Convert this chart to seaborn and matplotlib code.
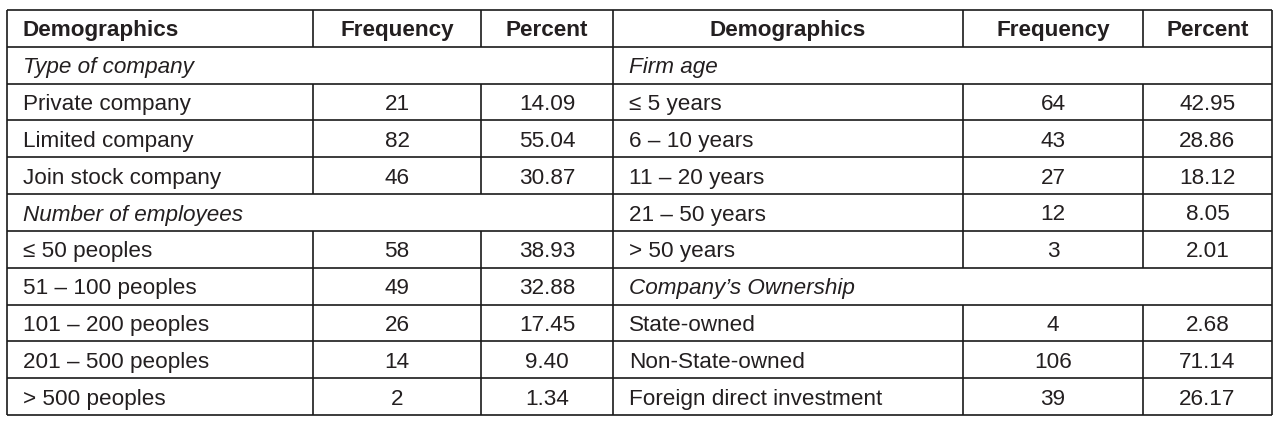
import matplotlib
matplotlib.use("Agg")
import matplotlib.pyplot as plt
import seaborn as sns
import pandas as pd

# ---- data ----
left_labels = ["Type of company", "Private company", "Limited company", "Join stock company",
               "Number of employees", "\u2264 50 peoples", "51 \u2013 100 peoples",
               "101 \u2013 200 peoples", "201 \u2013 500 peoples", "> 500 peoples"]
left_freq = [None, 21, 82, 46, None, 58, 49, 26, 14, 2]
left_pct = [None, "14.09", "55.04", "30.87", None, "38.93", "32.88", "17.45", "9.40", "1.34"]

right_labels = ["Firm age", "\u2264 5 years", "6 \u2013 10 years", "11 \u2013 20 years",
                "21 \u2013 50 years", "> 50 years", "Company\u2019s Ownership", "State-owned",
                "Non-State-owned", "Foreign direct investment"]
right_freq = [None, 64, 43, 27, 12, 3, None, 4, 106, 39]
right_pct = [None, "42.95", "28.86", "18.12", "8.05", "2.01", None, "2.68", "71.14", "26.17"]

headers = ["Demographics", "Frequency", "Percent"]

left_df = pd.DataFrame({"label": left_labels, "freq": left_freq, "pct": left_pct})
right_df = pd.DataFrame({"label": right_labels, "freq": right_freq, "pct": right_pct})

# ---- style ----
sns.set_theme(style="white")
plt.rcParams["font.family"] = ["Liberation Sans", "DejaVu Sans"]

W, H = 1283, 426
fig = plt.figure(figsize=(W / 100, H / 100), dpi=100)
ax = fig.add_axes([0, 0, 1, 1])
ax.set_xlim(0, W)
ax.set_ylim(H, 0)
ax.axis("off")

line_c = "#1a1a1a"
text_c = "#231f20"
lw = 1.2
fs = 16.2

top, bottom = 10, 415
n_rows = 11
rh = (bottom - top) / n_rows
row_edges = [top + i * rh for i in range(n_rows + 1)]

halves = [
    (left_df, [7, 313, 481, 613], "left"),
    (right_df, [613, 963, 1143, 1272], "center"),
]

# horizontal lines
ax.hlines(row_edges, 7, 1272, color=line_c, lw=lw)
# outer verticals
ax.vlines([7, 613, 1272], top, bottom, color=line_c, lw=lw)

for df, cols, head_align in halves:
    # header
    cy = (row_edges[0] + row_edges[1]) / 2
    for j, h in enumerate(headers):
        if j == 0 and head_align == "left":
            x, ha = cols[0] + 16, "left"
        else:
            x, ha = (cols[j] + cols[j + 1]) / 2, "center"
        ax.text(x, cy, h, ha=ha, va="center_baseline", fontsize=fs,
                fontweight="bold", color=text_c)
    ax.vlines(cols[1:3], row_edges[0], row_edges[1], color=line_c, lw=lw)

    for i, r in df.iterrows():
        y0, y1 = row_edges[i + 1], row_edges[i + 2]
        cy = (y0 + y1) / 2
        section = pd.isna(r["freq"])
        ax.text(cols[0] + 16, cy, r["label"], ha="left", va="center_baseline",
                fontsize=fs, color=text_c, style="italic" if section else "normal")
        if not section:
            ax.vlines(cols[1:3], y0, y1, color=line_c, lw=lw)
            ax.text((cols[1] + cols[2]) / 2, cy, str(int(r["freq"])), ha="center",
                    va="center_baseline", fontsize=fs, color=text_c)
            ax.text((cols[2] + cols[3]) / 2, cy, r["pct"], ha="center",
                    va="center_baseline", fontsize=fs, color=text_c)

fig.savefig("out.png", dpi=100, facecolor="white")
